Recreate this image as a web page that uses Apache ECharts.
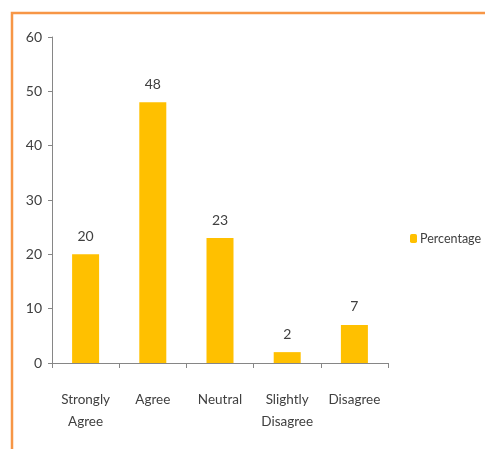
<!DOCTYPE html>
<html><head><meta charset="utf-8">
<script src="https://cdn.jsdelivr.net/npm/echarts@6/dist/echarts.min.js"></script>
<style>html,body{margin:0;padding:0;background:#fff}#c{width:485px;height:449px}</style>
</head><body><div id="c"></div>
<script>
const categories = ['Strongly Agree', 'Agree', 'Neutral', 'Slightly Disagree', 'Disagree'];
const percentage = [20, 48, 23, 2, 7];
const yTicks = { min: 0, max: 60, interval: 10 };
const seriesName = 'Percentage';

const chart = echarts.init(document.getElementById('c'), null, { renderer: 'canvas' });
const font = 'Lato, "Open Sans", sans-serif';
chart.setOption({
  animation: false,
  backgroundColor: '#fff',
  textStyle: { fontFamily: font },
  graphic: [{
    type: 'rect', shape: { x: 12, y: 13, width: 490, height: 460 },
    style: { fill: 'none', stroke: '#F79646', lineWidth: 2.5 }, silent: true
  }],
  grid: { left: 52, right: 97, top: 37, bottom: 86, containLabel: false },
  legend: {
    data: [seriesName], orient: 'vertical', left: 405, top: 227,
    itemWidth: 7, itemHeight: 9, itemGap: 4,
    textStyle: { fontSize: 12.5, color: '#404040', fontFamily: font, padding: [0, 0, 0, -2] }
  },
  xAxis: {
    type: 'category', data: categories,
    axisLine: { lineStyle: { color: '#868686', width: 1 } },
    axisTick: { show: true, length: 5, alignWithLabel: false, lineStyle: { color: '#868686' } },
    axisLabel: { color: '#404040', fontSize: 13.5, fontFamily: font, margin: 26, lineHeight: 22,
      interval: 0, formatter: v => v.replace(' ', '\n') }
  },
  yAxis: {
    type: 'value', min: yTicks.min, max: yTicks.max, interval: yTicks.interval,
    splitLine: { show: false },
    axisLine: { show: true, lineStyle: { color: '#868686', width: 1 } },
    axisTick: { show: true, length: 4, lineStyle: { color: '#868686' } },
    axisLabel: { color: '#404040', fontSize: 14, fontFamily: font, margin: 10 }
  },
  series: [{
    name: seriesName, type: 'bar', data: percentage, barWidth: 27,
    itemStyle: { color: '#FFC000' },
    label: { show: true, position: 'top', distance: 11, color: '#404040', fontSize: 14, fontFamily: font }
  }]
});
</script></body></html>
